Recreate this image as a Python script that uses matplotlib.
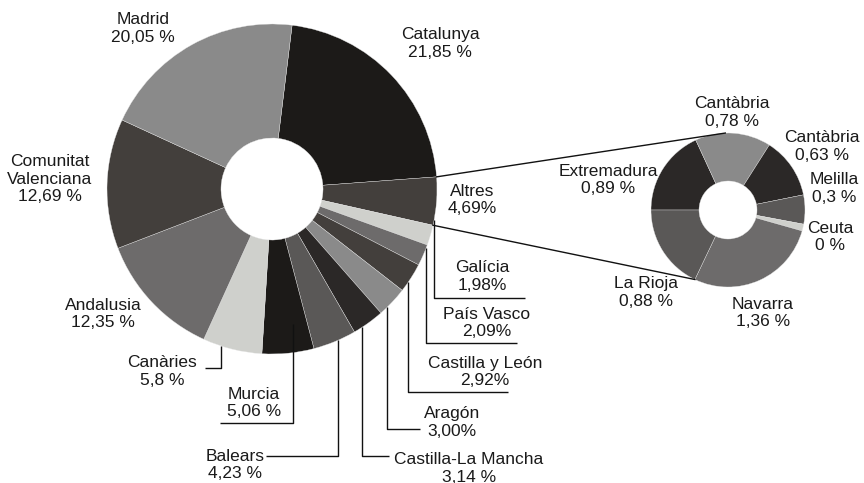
import numpy as np
import matplotlib
matplotlib.use("Agg")
import matplotlib.pyplot as plt

plt.rcParams['font.family'] = ['Liberation Sans', 'DejaVu Sans']

# Main donut: share by region (clockwise from the top)
main_regions = ["Catalunya", "Altres", "Galícia", "País Vasco", "Castilla y León",
                "Aragón", "Castilla-La Mancha", "Balears", "Murcia", "Canàries",
                "Andalusia", "Comunitat\nValenciana", "Madrid"]
main_pct = [21.85, 4.69, 1.98, 2.09, 2.92, 3.00, 3.14, 4.23, 5.06, 5.8, 12.35, 12.69, 20.05]
main_pct_labels = ["21,85 %", "4,69%", "1,98%", "2,09%", "2,92%", "3,00%", "3,14 %",
                   "4,23 %", "5,06 %", "5,8 %", "12,35 %", "12,69 %", "20,05 %"]
main_colors = ['#1c1a18', '#433f3c', '#cfd0cc', '#6d6b6b', '#433f3c', '#8a8a8a', '#2b2827',
               '#5a5857', '#1c1a18', '#cfd0cc', '#6d6b6b', '#433f3c', '#8a8a8a']

# Breakdown of "Altres" (clockwise from the left)
other_regions = ["Extremadura", "Cantàbria", "Cantàbria", "Melilla", "Ceuta", "Navarra", "La Rioja"]
other_pct = [0.89, 0.78, 0.63, 0.3, 0.07, 1.36, 0.88]   # Ceuta labelled 0 % but drawn as a sliver
other_pct_labels = ["0,89 %", "0,78 %", "0,63 %", "0,3 %", "0 %", "1,36 %", "0,88 %"]
other_colors = ['#2b2827', '#8a8a8a', '#2b2827', '#5a5857', '#cfd0cc', '#6d6b6b', '#5a5857']

W, H = 864, 483
fig = plt.figure(figsize=(8.64, 4.83), dpi=100)
ax = fig.add_axes([0, 0, 1, 1])

# layout (pixel coordinates, y measured from the top)
main_center = (272, H - 189)
R1, hole1 = 165, 51
other_center = (728, H - 210)
R2, hole2 = 77, 29

wedges, _ = ax.pie(main_pct, colors=main_colors, startangle=83, counterclock=False,
                   radius=R1, center=main_center,
                   wedgeprops=dict(width=R1 - hole1, edgecolor='#e8e8e8', linewidth=0.25))
wedges2, _ = ax.pie(other_pct, colors=other_colors, startangle=180, counterclock=False,
                    radius=R2, center=other_center,
                    wedgeprops=dict(width=R2 - hole2, edgecolor='#e8e8e8', linewidth=0.25))

# label positions (centre of text block)
main_pos = [(440, 43.5), (472, 200), (482, 276.5), (487, 323), (485, 372), (452, 422.5),
            (469, 468.5), (235, 465), (254, 403), (162, 371.5), (103, 314), (50, 179), (143, 28.5)]
other_pos = [(608, 180), (732, 112.5), (822, 146.5), (834, 188.5), (830, 237), (763, 313), (646, 292.5)]

for name, pct, (x, y) in zip(main_regions, main_pct_labels, main_pos):
    ax.text(x, H - y, name + "\n" + pct, ha='center', va='center', fontsize=12.5,
            color='#1a1a1a', linespacing=1.2)
for name, pct, (x, y) in zip(other_regions, other_pct_labels, other_pos):
    ax.text(x, H - y, name + "\n" + pct, ha='center', va='center', fontsize=12.5,
            color='#1a1a1a', linespacing=1.2)

# elbow leaders: vertical line x, end y, horizontal end x, start radius factor
leaders = {
    "Galícia": (434, 298, 525, 1.0),
    "País Vasco": (426, 343, 517, 1.0),
    "Castilla y León": (408, 392, 508, 1.0),
    "Aragón": (387, 429, 420, 1.0),
    "Castilla-La Mancha": (362, 456, 389, 1.0),
    "Balears": (338, 456, 266, 1.0),
    "Murcia": (293, 423, 220, 0.83),
    "Canàries": (221, 368, 205, 1.0),
}
cx, cy = main_center
for name, (lx, ly, hx, rf) in leaders.items():
    r = R1 * rf
    y0 = cy - np.sqrt(r ** 2 - (lx - cx) ** 2)
    ax.plot([lx, lx, hx], [y0, H - ly, H - ly], color='#111111', lw=1.0, solid_capstyle='butt')

# connector lines from "Altres" to the breakdown donut
alt = wedges[1]
a_top, a_bot = np.radians(alt.theta2), np.radians(alt.theta1)
p_top = (cx + R1 * np.cos(a_top), cy + R1 * np.sin(a_top))
p_bot = (cx + R1 * np.cos(a_bot), cy + R1 * np.sin(a_bot))
ox, oy = other_center
b_top = np.radians(92)
b_bot = np.radians(wedges2[-1].theta2)
q_top = (ox + R2 * np.cos(b_top), oy + R2 * np.sin(b_top))
q_bot = (ox + R2 * np.cos(b_bot), oy + R2 * np.sin(b_bot))
ax.plot([p_top[0], q_top[0]], [p_top[1], q_top[1]], color='#111111', lw=1.0)
ax.plot([p_bot[0], q_bot[0]], [p_bot[1], q_bot[1]], color='#111111', lw=1.0)

ax.set_xlim(0, W)
ax.set_ylim(0, H)
ax.set_aspect('equal')
ax.axis('off')

fig.savefig("out.png", dpi=100, facecolor='white')
